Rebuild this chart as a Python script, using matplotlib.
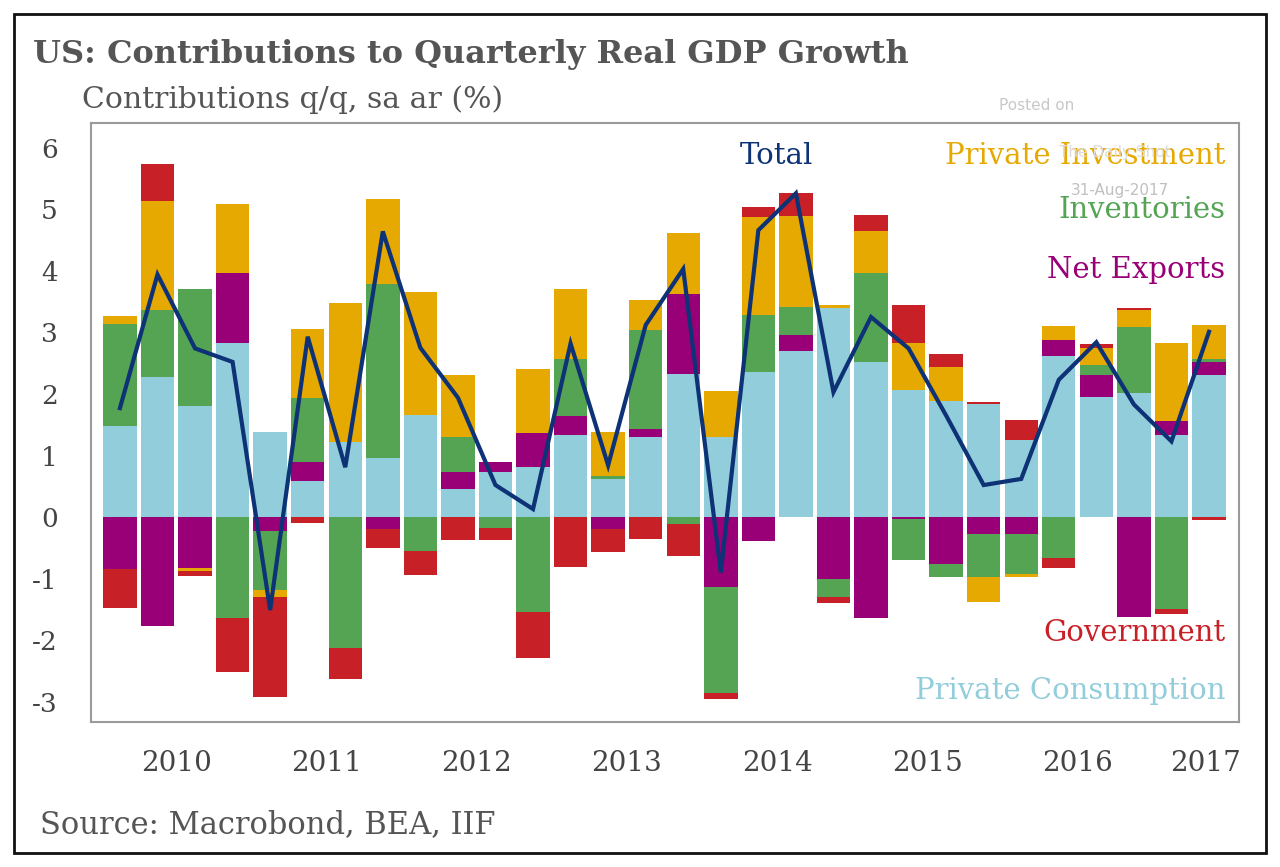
import numpy as np
import matplotlib
matplotlib.use('Agg')
import matplotlib.pyplot as plt
from matplotlib.patches import Rectangle

plt.rcParams['font.family'] = ['DejaVu Serif']
plt.rcParams['axes.unicode_minus'] = False

# 2010Q1 .. 2017Q2, contributions in percentage points
consumption = [1.48, 2.27, 1.81, 2.83, 1.38, 0.58, 1.22, 0.96, 1.65, 0.46,
               0.74, 0.81, 1.34, 0.62, 1.30, 2.32, 1.30, 2.35, 2.70, 3.40,
               2.52, 2.06, 1.88, 1.83, 1.26, 2.61, 1.95, 2.01, 1.34, 2.30]
net_exports = [-0.84, -1.77, -0.83, 1.13, -0.22, 0.31, 0.0, -0.20, 0.0, 0.27,
               0.15, 0.56, 0.30, -0.20, 0.13, 1.30, -1.14, -0.39, 0.26, -1.01,
               -1.64, -0.03, -0.77, -0.27, -0.27, 0.26, 0.35, -1.62, 0.22, 0.22]
inventories = [1.66, 1.09, 1.89, -1.64, -0.96, 1.05, -2.13, 2.83, -0.55, 0.57,
               -0.17, -1.55, 0.93, 0.05, 1.61, -0.12, -1.72, 0.93, 0.45, -0.29,
               1.45, -0.66, -0.21, -0.70, -0.66, -0.67, 0.17, 1.07, -1.49, 0.04]
investment = [0.12, 1.77, -0.04, 1.13, -0.12, 1.11, 2.26, 1.37, 2.01, 1.00,
              0.0, 1.04, 1.13, 0.71, 0.48, 1.00, 0.75, 1.59, 1.48, 0.05,
              0.68, 0.77, 0.55, -0.41, -0.04, 0.23, 0.28, 0.29, 1.26, 0.56]
government = [-0.64, 0.61, -0.08, -0.87, -1.62, -0.09, -0.50, -0.30, -0.39, -0.38,
              -0.21, -0.74, -0.81, -0.36, -0.35, -0.52, -0.10, 0.17, 0.38, -0.09,
              0.26, 0.61, 0.22, 0.04, 0.31, -0.16, 0.06, 0.03, -0.09, -0.04]
total = [1.77, 3.94, 2.74, 2.52, -1.51, 2.93, 0.81, 4.64, 2.75, 1.94,
         0.52, 0.13, 2.82, 0.84, 3.12, 4.03, -0.90, 4.66, 5.26, 2.03,
         3.25, 2.74, 1.65, 0.52, 0.62, 2.23, 2.84, 1.83, 1.23, 3.01]

year_labels = ['2010', '2011', '2012', '2013', '2014', '2015', '2016', '2017']
year_pos = [1.5, 5.5, 9.5, 13.5, 17.5, 21.5, 25.5, 28.9]

series = [
    (consumption, '#92cddc'),
    (net_exports, '#990077'),
    (inventories, '#55a454'),
    (investment, '#e6a902'),
    (government, '#c82027'),
]

fig = plt.figure(figsize=(12.8, 8.67), dpi=100)
ax = fig.add_axes([0.0711, 0.1672, 0.8969, 0.6908])

x = np.arange(len(total))
pos_base = np.zeros(len(x))
neg_base = np.zeros(len(x))
for vals, col in series:
    v = np.array(vals)
    p = np.where(v > 0, v, 0)
    n = np.where(v < 0, v, 0)
    ax.bar(x, p, bottom=pos_base, width=0.89, color=col, edgecolor='none', zorder=2)
    ax.bar(x, n, bottom=neg_base, width=0.89, color=col, edgecolor='none', zorder=2)
    pos_base += p
    neg_base += n

ax.plot(x, total, color='#0d3275', lw=3, zorder=3, solid_joinstyle='miter')

ax.set_xlim(-0.77, 29.8)
ax.set_ylim(-3.33, 6.4)
ax.set_yticks(range(-3, 7))
ax.set_xticks(year_pos, year_labels)
ax.tick_params(axis='both', length=0, colors='#444444')
ax.tick_params(axis='x', pad=20, labelsize=20)
ax.tick_params(axis='y', pad=24, labelsize=19)
for s in ax.spines.values():
    s.set_color('#9a9a9a')
    s.set_linewidth(1.5)

# series labels
lab = dict(transform=ax.transAxes, fontsize=21, va='center')
ax.text(0.597, 0.945, 'Total', color='#0d3275', ha='center', **lab)
ax.text(0.988, 0.945, 'Private Investment', color='#e6a902', ha='right', **lab)
ax.text(0.988, 0.855, 'Inventories', color='#55a454', ha='right', **lab)
ax.text(0.988, 0.755, 'Net Exports', color='#990077', ha='right', **lab)
ax.text(0.988, 0.148, 'Government', color='#c82027', ha='right', **lab)
ax.text(0.988, 0.052, 'Private Consumption', color='#92cddc', ha='right', **lab)

# watermark
fig.text(1037 / 1280, 1 - 105 / 867, 'Posted on', color='#c8c8c8', fontsize=11,
         ha='center', va='center', family='DejaVu Sans')
fig.text(1115 / 1280, 1 - 152 / 867, 'The Daily Shot', color='#dcdcdc', fontsize=11,
         ha='center', va='center', family='DejaVu Sans', zorder=0)
fig.text(1120 / 1280, 1 - 190 / 867, '31-Aug-2017', color='#c0c0c0', fontsize=11,
         ha='center', va='center', family='DejaVu Sans')

fig.text(33 / 1280, 1 - 55 / 867, 'US: Contributions to Quarterly Real GDP Growth',
         fontsize=23, fontweight='bold', color='#555555', ha='left', va='center')
fig.text(82 / 1280, 1 - 100 / 867, 'Contributions q/q, sa ar (%)',
         fontsize=21.5, color='#555555', ha='left', va='center')
fig.text(40 / 1280, 1 - 825 / 867, 'Source: Macrobond, BEA, IIF',
         fontsize=22, color='#555555', ha='left', va='center')

fig.patches.append(Rectangle((14 / 1280, 1 - 853 / 867), 1252 / 1280, 839 / 867,
                             transform=fig.transFigure, fill=False,
                             edgecolor='#111111', lw=2))

plt.savefig('out.png', dpi=100, facecolor='white')
